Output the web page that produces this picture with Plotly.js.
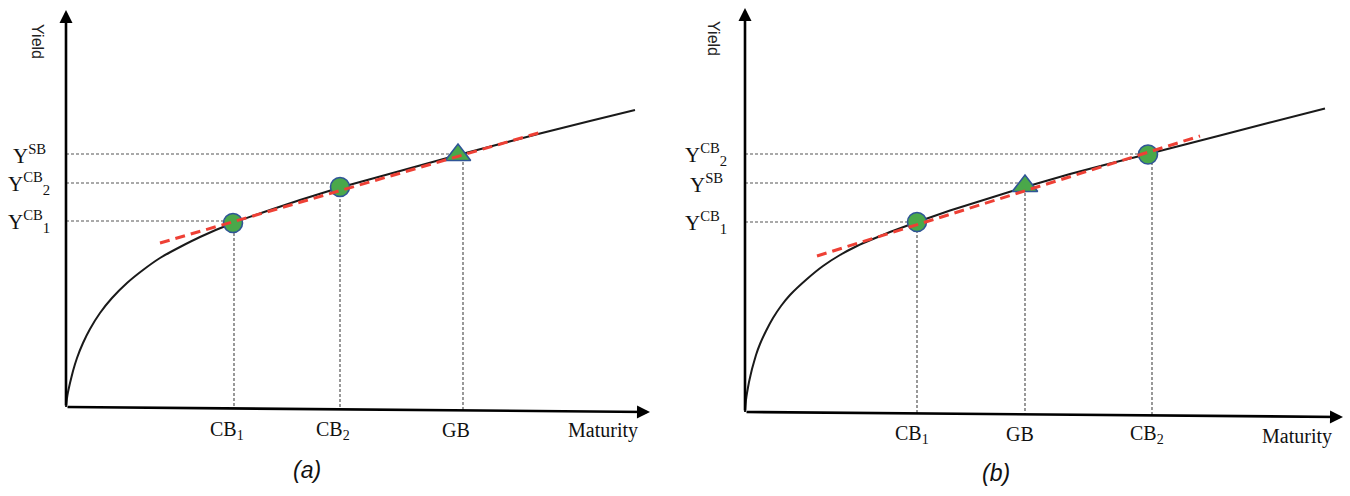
<!DOCTYPE html>
<html><head><meta charset="utf-8">
<script src="https://cdn.plot.ly/plotly-3.0.1.min.js"></script>
<style>html,body{margin:0;padding:0;background:#fff}#chart{width:1350px;height:496px}</style>
</head><body><div id="chart"></div>
<script>
// ---------- Panel (a) ----------
const curveA_maturity = [0,1,2,4,7,11,17,24,34,46,61,77,94,114,134,167,204,234,274,334,392,434,474,524,569];
const curveA_yield    = [0,9,15,24,36,49,64,78,94,109,124,137,149,160,170,184,197,207,219.5,236,252,263,273.5,286,297];
const bondsA_maturity = [167,274,392];
const bondsA_yield    = [184,220,252];
const bondsA_symbols  = ['circle','circle','triangle-up'];
const ticksA_maturity = [168,274,397];
const ticksA_labels   = ['CB<sub>1</sub>','CB<sub>2</sub>','GB'];
const levelsA_yield   = [186,224,253];
const levelsA_labels  = ['Y<sup>CB</sup><sub>1</sub>','Y<sup>CB</sup><sub>2</sub>','Y<sup>SB</sup>'];
const fitA_maturity   = [94,474];
const fitA_yield      = [164,274.5];
const axisA_xTip      = [584,-5];
const axisA_yTip      = [0,397];

// ---------- Panel (b) ----------
const curveB_maturity = [0,1,2,4,7,11,15,21,28,36,45,62,78,95,112,128,145,172,205,245,280,325,365,403,475,525,580];
const curveB_yield    = [0,12,19,30,43,57,68,81,94,106,117,133,146,157,166,173,180,190,201.5,214,225,238,248.5,258,276.5,289.5,303.5];
const bondsB_maturity = [172,280,403];
const bondsB_yield    = [190,226,257.5];
const bondsB_symbols  = ['circle','triangle-up','circle'];
const ticksB_maturity = [172,280,407];
const ticksB_labels   = ['CB<sub>1</sub>','GB','CB<sub>2</sub>'];
const levelsB_yield   = [190,229,258];
const levelsB_labels  = ['Y<sup>CB</sup><sub>1</sub>','Y<sup>SB</sup>','Y<sup>CB</sup><sub>2</sub>'];
const fitB_maturity   = [72,455];
const fitB_yield      = [156,276];
const axisB_xTip      = [598,-5];
const axisB_yTip      = [0,404];

const SERIF = 'Liberation Serif, Times New Roman, serif';
const SANS = 'Liberation Sans, Arial, sans-serif';

function panel(xa, ya, curveX, curveY, bx, by, bsym, tx, ly, fx, fy, xTip) {
  const gx = [], gy = [];
  for (let i = 0; i < tx.length; i++) {
    const base = xTip[1] * tx[i] / xTip[0];
    gx.push(0, tx[i], tx[i], null);
    gy.push(ly[i], ly[i], base, null);
  }
  return [
    {x: gx, y: gy, xaxis: xa, yaxis: ya, mode: 'lines', hoverinfo: 'skip',
     line: {color: '#555', width: 1.2, dash: '3px,2px'}},
    {x: curveX, y: curveY, xaxis: xa, yaxis: ya, mode: 'lines', line: {color: '#1a1a1a', width: 2, shape: 'spline', smoothing: 0.3}},
    {x: bx, y: by, xaxis: xa, yaxis: ya, mode: 'markers', opacity: 1,
     marker: {symbol: bsym, size: bsym.map(s => s === 'circle' ? 19 : 22), color: '#4aa84a', opacity: 1,
              line: {color: '#2f5597', width: 1.6}}},
    {x: fx, y: fy, xaxis: xa, yaxis: ya, mode: 'lines', line: {color: '#ee4035', width: 3, dash: '10px,6px'}}
  ];
}

const data = [
  ...panel('x','y', curveA_maturity, curveA_yield, bondsA_maturity, bondsA_yield, bondsA_symbols, ticksA_maturity, levelsA_yield, fitA_maturity, fitA_yield, axisA_xTip),
  ...panel('x2','y2', curveB_maturity, curveB_yield, bondsB_maturity, bondsB_yield, bondsB_symbols, ticksB_maturity, levelsB_yield, fitB_maturity, fitB_yield, axisB_xTip)
];

function arrow(xr, yr, tip) {
  return {xref: xr, yref: yr, axref: xr, ayref: yr, x: tip[0], y: tip[1], ax: 0, ay: 0,
          text: '', showarrow: true, arrowhead: 2, arrowsize: 1.0, arrowwidth: 2.6, arrowcolor: '#000', standoff: 0};
}
function label(xr, yr, x, y, text, opts) {
  return Object.assign({xref: xr, yref: yr, x: x, y: y, text: text, showarrow: false,
    xanchor: 'center', yanchor: 'middle', font: {family: SERIF, size: 20, color: '#111'}}, opts || {});
}

const ann = [arrow('x','y',axisA_xTip), arrow('x','y',axisA_yTip), arrow('x2','y2',axisB_xTip), arrow('x2','y2',axisB_yTip)];
ticksA_labels.forEach((t,i) => ann.push(label('x','y', ticksA_maturity[i], -23, t, {xshift: -7})));
ticksB_labels.forEach((t,i) => ann.push(label('x2','y2', ticksB_maturity[i], -22, t, {xshift: -5})));
levelsA_labels.forEach((t,i) => ann.push(label('x','y', -37, levelsA_yield[i], t, {font: {family: SERIF, size: 21, color: '#111'}})));
levelsB_labels.forEach((t,i) => ann.push(label('x2','y2', -39, levelsB_yield[i], t, {font: {family: SERIF, size: 21, color: '#111'}})));
ann.push(label('x','y', 537, -23, 'Maturity'));
ann.push(label('x2','y2', 552, -24, 'Maturity'));
ann.push(label('x','y', -28, 366, 'Yield', {textangle: 90, font: {family: SANS, size: 16, color: '#222'}}));
ann.push(label('x2','y2', -31, 374, 'Yield', {textangle: 90, font: {family: SANS, size: 16, color: '#222'}}));
ann.push(label('x','y', 241, -63, '<i>(a)</i>', {font: {family: SANS, size: 23, color: '#111'}}));
ann.push(label('x2','y2', 251, -61, '<i>(b)</i>', {font: {family: SANS, size: 23, color: '#111'}}));

const hidden = {visible: false, fixedrange: true};
const layout = {
  width: 1350, height: 496, margin: {l: 0, r: 0, t: 0, b: 0},
  paper_bgcolor: '#fff', plot_bgcolor: 'rgba(0,0,0,0)', showlegend: false,
  xaxis:  Object.assign({domain: [0, 0.5], range: [-66, 609]}, hidden),
  yaxis:  Object.assign({domain: [0, 1], range: [-89, 407]}, hidden),
  xaxis2: Object.assign({domain: [0.5, 1], range: [-70, 605], anchor: 'y2'}, hidden),
  yaxis2: Object.assign({domain: [0, 1], range: [-84, 412], anchor: 'x2'}, hidden),
  annotations: ann
};
Plotly.newPlot('chart', data, layout, {displayModeBar: false, staticPlot: true});
</script></body></html>
